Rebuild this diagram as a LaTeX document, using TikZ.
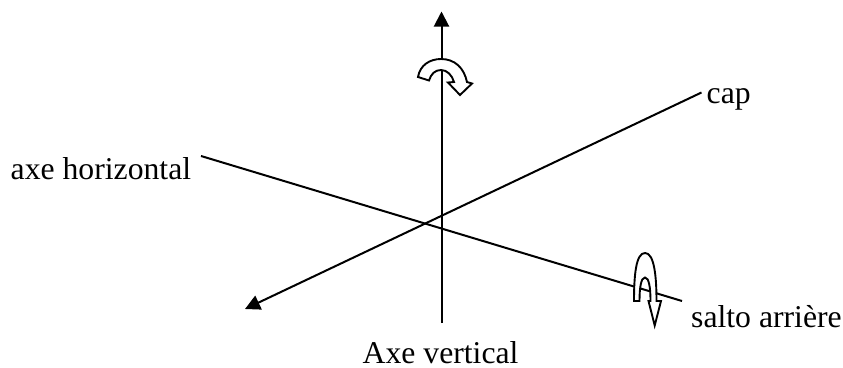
\documentclass[tikz,border=0pt]{standalone}
\usepackage{fontspec}
\setmainfont{Liberation Serif}
\usetikzlibrary{arrows.meta}
\tikzset{
  axisline/.style={draw=black,line width=2pt},
  axisarrow/.style={axisline,-{Triangle[length=15pt,width=15pt]}},
  turn/.style={draw=black,fill=white,line width=1.9pt,line join=miter},
  lbl/.style={inner sep=0pt,anchor=base west,font=\fontsize{31.7}{36}\selectfont}
}
\begin{document}
\begin{tikzpicture}[x=1pt,y=-1pt]
\useasboundingbox (0,0) rectangle (843,367);
\fill[white] (0,0) rectangle (843,367);
\coordinate (vb) at (441.5,323);
\coordinate (vt) at (441.5,11.5);
\coordinate (cs) at (701.5,92.5);
\coordinate (ce) at (245,309);
\coordinate (hs) at (201,156);
\coordinate (he) at (682,301);
\draw[axisarrow] (vb) -- (vt);
\draw[axisarrow] (cs) -- (ce);
\draw[axisline] (hs) -- (he);
\path[turn] (418,77) .. controls (420,65) and (430,59) .. (441,59)
  .. controls (455,59) and (464,68) .. (467,82) -- (472,83.5) -- (460,95)
  -- (448,82.5) -- (454,82) .. controls (452,75) and (447,70) .. (441,70)
  .. controls (435,70) and (431,74) .. (429,80.5) -- cycle;
\path[turn] (634,301) .. controls (634,275) and (636,253) .. (645,253)
  .. controls (654,253) and (656.5,275) .. (656.5,301) -- (661,301) -- (654.7,325.5)
  -- (648.5,301) -- (650.5,301) .. controls (650.5,288) and (649,277.5) .. (645,277.5)
  .. controls (641,277.5) and (639.5,288) .. (639.5,301) -- cycle;
\node[lbl] (nh) at (10.5,179) {axe horizontal};
\node[lbl] (nc) at (706.5,103) {cap};
\node[lbl] (ns) at (691,327) {salto arrière};
\node[lbl] (nv) at (362.5,363) {Axe vertical};
\end{tikzpicture}
\end{document}
